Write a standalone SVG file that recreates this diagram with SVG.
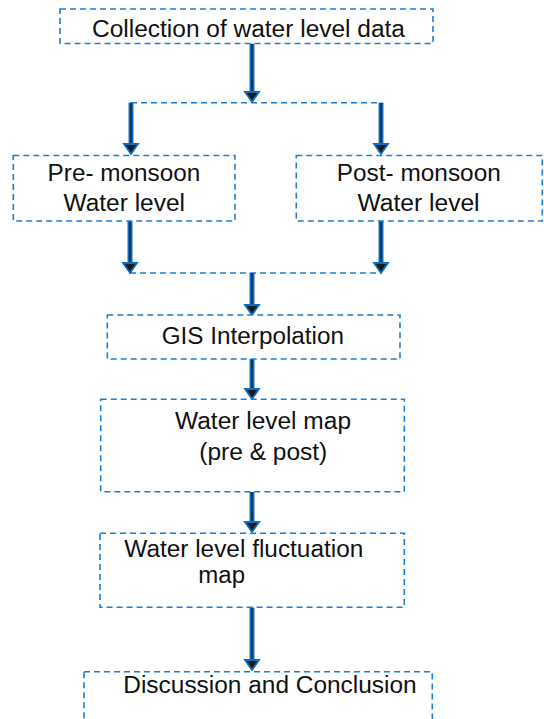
<svg xmlns="http://www.w3.org/2000/svg" width="544" height="719" viewBox="0 0 544 719">
<defs>
<style>
.box{fill:#ffffff;stroke:#1a7fd2;stroke-width:1.6;stroke-dasharray:6 4}
.dl{fill:none;stroke:#1a7fd2;stroke-width:1.6;stroke-dasharray:6 4}
.lab{font-family:"Liberation Sans",Arial,sans-serif;font-size:23.5px;fill:#111111}
.ao{fill:none;stroke:#0a6fc4;stroke-width:5}
.ai{fill:none;stroke:#1a1a1a;stroke-width:1.3}
.ah{fill:#1a1a1a;stroke:#0a6fc4;stroke-width:1.8;stroke-linejoin:miter}
</style>
</defs>
<rect width="544" height="719" fill="#ffffff"/>
<g id="connectors">
<path class="dl" d="M131 102.7 H381"/>
<path class="dl" d="M130 273 H381"/>
<g id="a1"><path class="ao" d="M252 43.5 V93"/><path class="ai" d="M252 43.5 V93"/><polygon class="ah" points="245,92 259,92 252,101.7"/></g>
<g id="a2"><path class="ao" d="M131 102.7 V145"/><path class="ai" d="M131 102.7 V145"/><polygon class="ah" points="124,144 138,144 131,154"/></g>
<g id="a3"><path class="ao" d="M381 102.7 V145"/><path class="ai" d="M381 102.7 V145"/><polygon class="ah" points="374,144 388,144 381,154"/></g>
<g id="a4"><path class="ao" d="M130 221 V264"/><path class="ai" d="M130 221 V264"/><polygon class="ah" points="123,263 137,263 130,273"/></g>
<g id="a5"><path class="ao" d="M381 221 V264"/><path class="ai" d="M381 221 V264"/><polygon class="ah" points="374,263 388,263 381,273"/></g>
<g id="a6"><path class="ao" d="M252 273 V306"/><path class="ai" d="M252 273 V306"/><polygon class="ah" points="245,305 259,305 252,315"/></g>
<g id="a7"><path class="ao" d="M252 359 V390"/><path class="ai" d="M252 359 V390"/><polygon class="ah" points="245,389 259,389 252,399"/></g>
<g id="a8"><path class="ao" d="M252 492 V523"/><path class="ai" d="M252 492 V523"/><polygon class="ah" points="245,522 259,522 252,532"/></g>
<g id="a9"><path class="ao" d="M252 607.5 V661"/><path class="ai" d="M252 607.5 V661"/><polygon class="ah" points="245,660 259,660 252,670"/></g>
</g>
<g id="n1"><rect class="box" x="60" y="9" width="373" height="34.5"/><text class="lab" x="92" y="37" textLength="313" lengthAdjust="spacingAndGlyphs">Collection of water level data</text></g>
<g id="n2"><rect class="box" x="13.3" y="155.5" width="221.7" height="65.5"/><text class="lab" x="47.6" y="181" textLength="152.7" lengthAdjust="spacingAndGlyphs">Pre- monsoon</text><text class="lab" x="63.5" y="210.6" textLength="121.5" lengthAdjust="spacingAndGlyphs">Water level</text></g>
<g id="n3"><rect class="box" x="296.3" y="155.5" width="246" height="65.5"/><text class="lab" x="336.8" y="181" textLength="164" lengthAdjust="spacingAndGlyphs">Post- monsoon</text><text class="lab" x="357.6" y="210.6" textLength="122" lengthAdjust="spacingAndGlyphs">Water level</text></g>
<g id="n4"><rect class="box" x="107.3" y="315" width="292.7" height="44"/><text class="lab" x="161.7" y="344.3" textLength="182.3" lengthAdjust="spacingAndGlyphs">GIS Interpolation</text></g>
<g id="n5"><rect class="box" x="100.7" y="399.3" width="303.6" height="92.4"/><text class="lab" x="175" y="429.3" textLength="176" lengthAdjust="spacingAndGlyphs">Water level map</text><text class="lab" x="199.3" y="460" textLength="128" lengthAdjust="spacingAndGlyphs">(pre &amp; post)</text></g>
<g id="n6"><rect class="box" x="100" y="533.3" width="304.3" height="74"/><text class="lab" x="124.3" y="556.7" textLength="239" lengthAdjust="spacingAndGlyphs">Water level fluctuation</text><text class="lab" x="198.3" y="583.3" textLength="46.7" lengthAdjust="spacingAndGlyphs">map</text></g>
<g id="n7"><rect class="box" x="84" y="671.7" width="348.3" height="60"/><text class="lab" x="123.3" y="693.3" textLength="293.4" lengthAdjust="spacingAndGlyphs">Discussion and Conclusion</text></g>
</svg>
